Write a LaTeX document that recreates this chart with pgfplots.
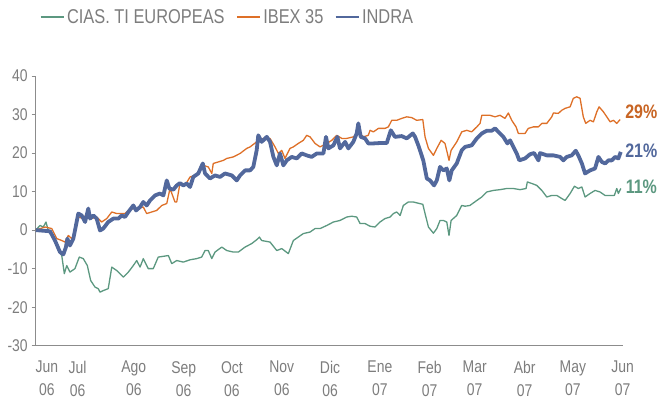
\documentclass[border=0pt]{standalone}
\usepackage{fontspec}
\setmainfont{Liberation Sans}[FakeStretch=0.82]
\usepackage{pgfplots}
\pgfplotsset{compat=1.18}
\definecolor{cgreen}{RGB}{92,152,128}
\definecolor{corange}{RGB}{222,112,40}
\definecolor{cblue}{RGB}{82,104,156}
\definecolor{ctext}{RGB}{125,125,125}
\definecolor{caxis}{RGB}{140,140,140}
\begin{document}
\begin{tikzpicture}[x=1pt,y=1pt]
\useasboundingbox (0,0) rectangle (672,403);
\begin{axis}[
  at={(35.7pt,57.3pt)}, anchor=south west,
  scale only axis, width=587pt, height=269.7pt,
  xmin=0, xmax=365, ymin=-30, ymax=40,
  clip=false,
  axis x line=bottom, axis y line=left,
  axis line style={draw=caxis, line width=0.9pt, -},
  tick align=outside,
  ytick={-30,-20,-10,0,10,20,30,40},
  major tick length=4pt,
  tick style={draw=caxis, line width=0.9pt},
  /pgf/number format/assume math mode=true,
  yticklabel style={font=\fontsize{17}{18}\selectfont, text=ctext, xshift=-0.5pt},
  xtick={7,26,61,92,122,153,183,214,245,273,304,334,365},
  xticklabels={Jun\\06,Jul\\06,Ago\\06,Sep\\06,Oct\\06,Nov\\06,Dic\\06,Ene\\07,Feb\\07,Mar\\07,Abr\\07,May\\07,Jun\\07},
  x tick style={draw=none},
  xticklabel style={font=\fontsize{17}{23}\selectfont, text=ctext, align=center, yshift=-8pt},
  extra x ticks={0,30,61,92,122,153,183,214,245,273,304,334,365},
  extra x tick labels={},
  extra x tick style={tick style={draw=caxis, line width=0.9pt}, major tick length=4pt},
  legend style={draw=none, fill=none, at={(0.006,1.219)}, anchor=west,
    legend columns=-1, font=\fontsize{20}{20}\selectfont, text=ctext,
    /tikz/every even column/.append style={column sep=9pt}, inner sep=0pt},
  legend image code/.code={\draw[#1, line width=2.6pt] (0pt,0pt) -- (23pt,0pt);},
  line join=round,
]
\addplot[cgreen, line width=1.3pt] coordinates {
(0,0) (2.7,1.2) (4.7,0.8) (6.4,2.1) (7.8,-0.1) (10.0,-0.9) (12.0,-3.1) (14.1,-5.3)
(16.2,-6.6) (17.8,-11.3) (19.3,-9.2) (21.3,-10.9) (24.4,-10.0) (27.1,-7.0) (29.6,-7.4)
(32.1,-9.2) (34.2,-13.1) (36.9,-14.8) (38.9,-15.2) (40.0,-16.1) (42.0,-15.7) (45.1,-15.2)
(47.3,-9.6) (50.4,-10.5) (54.5,-12.2) (57.6,-10.9) (60.7,-9.2) (62.8,-7.9) (64.9,-9.6)
(66.9,-7.4) (70.0,-10.0) (73.1,-10.0) (76.2,-7.0) (79.4,-6.8) (82.5,-6.6) (84.6,-8.7)
(87.7,-7.9) (91.8,-8.3) (96.0,-7.7) (100.1,-7.4) (103.2,-7.0) (105.3,-5.3) (107.3,-5.3)
(109.5,-7.4) (111.5,-5.7) (115.7,-4.4) (118.8,-5.3) (122.9,-5.7) (126.0,-5.7) (130.2,-4.4)
(134.3,-3.5) (137.4,-2.5) (139.1,-1.8) (140.5,-2.7) (145.7,-3.1) (149.9,-5.3) (153.0,-4.8)
(157.1,-6.1) (160.2,-2.7) (163.3,-1.8) (166.4,-0.9) (170.6,-0.5) (173.7,0.4) (176.8,0.4)
(181.0,1.2) (185.1,2.1) (189.2,2.5) (193.4,3.4) (196.5,3.6) (199.6,3.4) (201.7,1.7)
(204.8,1.7) (207.9,1.0) (211.0,0.8) (214.1,2.1) (217.2,3.0) (220.4,3.4) (222.4,4.3)
(224.5,4.7) (226.6,3.8) (228.6,6.4) (231.7,7.3) (234.8,7.3) (238.6,6.9) (240.7,6.7)
(242.1,4.3) (244.2,0.8) (247.3,-0.8) (249.4,0.4) (251.4,2.5) (253.5,2.5) (255.6,2.1)
(257.0,-1.4) (258.3,2.5) (261.8,3.8) (264.9,6.4) (267.0,6.2) (270.0,6.4) (274.3,7.7)
(277.4,8.6) (280.5,9.9) (284.6,10.3) (288.7,10.5) (292.9,10.8) (297.0,10.8) (301.2,10.5)
(304.9,10.8) (305.7,12.5) (308.5,12.1) (311.6,11.6) (314.7,10.3) (317.8,8.6) (320.9,9.0)
(324.0,9.0) (327.1,8.2) (329.2,7.7) (332.3,9.5) (335.0,11.4) (337.4,10.8) (339.6,11.2)
(341.6,8.6) (344.7,9.5) (347.8,10.3) (350.9,9.9) (354.0,9.0) (357.2,9.0) (359.8,9.0)
(361.3,10.8) (362.3,9.5) (363.8,10.8)
};
\addlegendentry{CIAS. TI EUROPEAS}
\addplot[corange, line width=1.3pt] coordinates {
(0,0) (5.8,0.8) (10.0,0.4) (13.1,-2.2) (16.2,-2.7) (18.2,-3.1) (20.3,-1.4) (22.4,-2.2)
(24.4,-0.5) (26.5,3.4) (29.6,3.0) (32.7,4.7) (34.8,3.0) (37.9,3.4) (41.0,2.1) (44.2,3.0)
(47.3,4.7) (50.4,4.3) (55.5,4.3) (57.6,5.1) (60.7,5.6) (63.8,5.6) (66.9,6.0) (69.0,4.3)
(72.1,4.7) (75.2,5.1) (78.4,6.4) (81.5,6.9) (83.5,10.8) (86.6,7.3) (87.7,7.3) (89.7,12.1)
(92.8,11.6) (96.0,13.8) (99.1,14.2) (102.2,15.5) (104.2,16.8) (107.3,16.4) (109.5,14.7)
(110.4,17.3) (113.6,17.7) (116.7,18.1) (118.8,18.6) (122.9,19.0) (127.1,19.9) (131.2,21.2)
(133.3,21.6) (137.4,22.9) (141.5,23.8) (145.7,23.8) (148.8,21.6) (150.9,19.9) (153.0,20.7)
(155.0,18.6) (158.1,21.2) (160.2,21.6) (163.3,22.5) (166.4,23.3) (168.5,24.6) (170.6,24.2)
(173.7,22.5) (176.8,21.6) (181.0,22.5) (184.1,23.3) (187.2,24.6) (190.3,23.8) (193.4,23.8)
(197.5,24.2) (200.6,25.5) (203.7,24.2) (206.8,24.6) (207.9,25.9) (210.0,25.5) (213.1,26.4)
(217.2,26.4) (219.3,26.8) (221.4,28.5) (224.5,28.5) (227.6,29.0) (230.7,29.4) (233.8,29.2)
(236.9,28.5) (240.7,28.7) (242.1,24.2) (244.2,21.2) (247.3,19.4) (249.4,21.2) (252.1,23.3)
(254.5,22.5) (256.0,19.9) (257.0,18.1) (258.3,20.7) (261.8,22.9) (264.9,25.5) (268.0,25.9)
(271.1,25.5) (274.3,26.8) (276.3,27.7) (277.4,29.8) (282.5,29.8) (285.6,29.4) (288.7,29.8)
(291.8,29.0) (293.9,30.4) (296.0,28.5) (298.7,26.8) (300.1,25.1) (304.3,25.1) (306.3,26.4)
(309.5,26.8) (312.6,26.8) (314.7,27.7) (317.8,27.7) (320.9,29.4) (321.9,30.4) (325.0,30.3)
(327.1,31.1) (329.2,31.6) (332.3,32.0) (334.3,34.2) (336.4,34.6) (338.5,34.2) (340.5,29.4)
(342.0,27.7) (344.7,28.5) (346.8,28.1) (348.9,30.7) (350.3,32.0) (353.0,30.7) (355.1,29.4)
(357.2,28.1) (359.2,28.5) (361.3,27.7) (363.4,28.7)
};
\addlegendentry{IBEX 35}
\addplot[cblue, line width=3.8pt] coordinates {
(0,0) (8.9,-0.3) (12,-2.7) (15.1,-5.7) (17.2,-6.3) (18.8,-4.4) (19.7,-2.2) (21.3,-4.0)
(23.4,-2.2) (26.5,4.3) (28.6,3.8) (30.7,2.1) (32.7,5.6) (33.8,3.0) (35.8,3.8) (37.9,3.0)
(40.0,-0.1) (42.0,0.4) (45.1,2.1) (48.3,3.0) (51.4,3.0) (53.5,3.8) (55.5,3.4) (57.6,4.7)
(60.7,6.4) (62.4,5.1) (64.9,6.0) (66.9,7.3) (69.0,6.4) (71.1,7.7) (74.2,9.0) (77.3,9.5)
(79.4,9.0) (81.5,12.9) (83.1,10.8) (85.6,10.5) (87.7,11.6) (89.7,12.2) (91.8,11.6)
(93.9,12.1) (96.0,11.2) (98.0,13.8) (101.1,14.7) (103.9,17.3) (105.3,14.7) (108.4,13.4)
(111.5,14.2) (114.6,13.8) (117.7,14.7) (121.9,14.2) (125.0,12.9) (127.1,14.2) (130.2,15.5)
(133.3,15.5) (135.3,16.4) (137.4,20.7) (138.4,24.6) (140.5,22.9) (143.7,24.2) (145.7,22.9)
(147.8,19.0) (149.9,16.8) (151.9,19.9) (154.0,16.8) (156.1,18.1) (159.2,19.0) (162.3,18.6)
(165.4,19.9) (168.5,19.4) (171.6,19.0) (174.8,19.9) (178.9,19.9) (180.5,24.2) (182.0,21.2)
(185.1,22.0) (187.6,24.2) (189.2,21.2) (192.4,22.9) (194.4,21.2) (197.5,22.9) (199.6,25.1)
(200.6,27.7) (202.1,24.2) (204.8,23.8) (206.8,22.5) (210.0,22.5) (214.1,22.6) (218.3,22.6)
(220.8,25.9) (223.4,24.2) (227.6,24.4) (230.7,23.8) (234.5,25.1) (235.9,24.2) (237.9,22.0)
(241.0,18.1) (243.2,13.4) (245.2,12.9) (247.7,11.6) (249.4,12.9) (251.4,16.4) (253.5,15.5)
(255.6,16.0) (257.2,12.9) (258.7,15.5) (261.8,17.3) (264.9,20.7) (267.0,21.6) (271.1,22.0)
(274.3,23.8) (277.4,25.1) (280.5,25.8) (283.6,25.8) (285.6,26.4) (287.7,25.5) (290.8,24.2)
(293.3,22.5) (295.0,23.3) (297.0,21.6) (299.1,19.9) (300.7,18.1) (304.3,18.6) (307.4,19.7)
(309.9,20.0) (312.6,18.1) (313.6,20.0) (317.8,19.4) (321.9,19.4) (326.1,19.0) (328.1,18.1)
(330.2,19.0) (333.3,19.4) (335.8,20.6) (337.4,19.4) (339.6,17.3) (341.6,14.7) (344.7,15.5)
(347.8,16.0) (349.9,19.0) (352.0,17.7) (354.1,17.3) (356.1,18.1) (358.2,18.1) (360.3,19.0)
(362.3,18.6) (363.8,20.3)
};
\addlegendentry{INDRA}
\node[anchor=west, inner sep=0pt, text=corange!90!black, font=\fontsize{19.5}{20}\selectfont\bfseries] at (axis cs:366.5,30.6) {29\%};
\node[anchor=west, inner sep=0pt, text=cblue, font=\fontsize{19.5}{20}\selectfont\bfseries] at (axis cs:366.5,20.7) {21\%};
\node[anchor=west, inner sep=0pt, text=cgreen, font=\fontsize{19.5}{20}\selectfont\bfseries] at (axis cs:366.8,11.3) {11\%};
\end{axis}
\end{tikzpicture}
\end{document}
